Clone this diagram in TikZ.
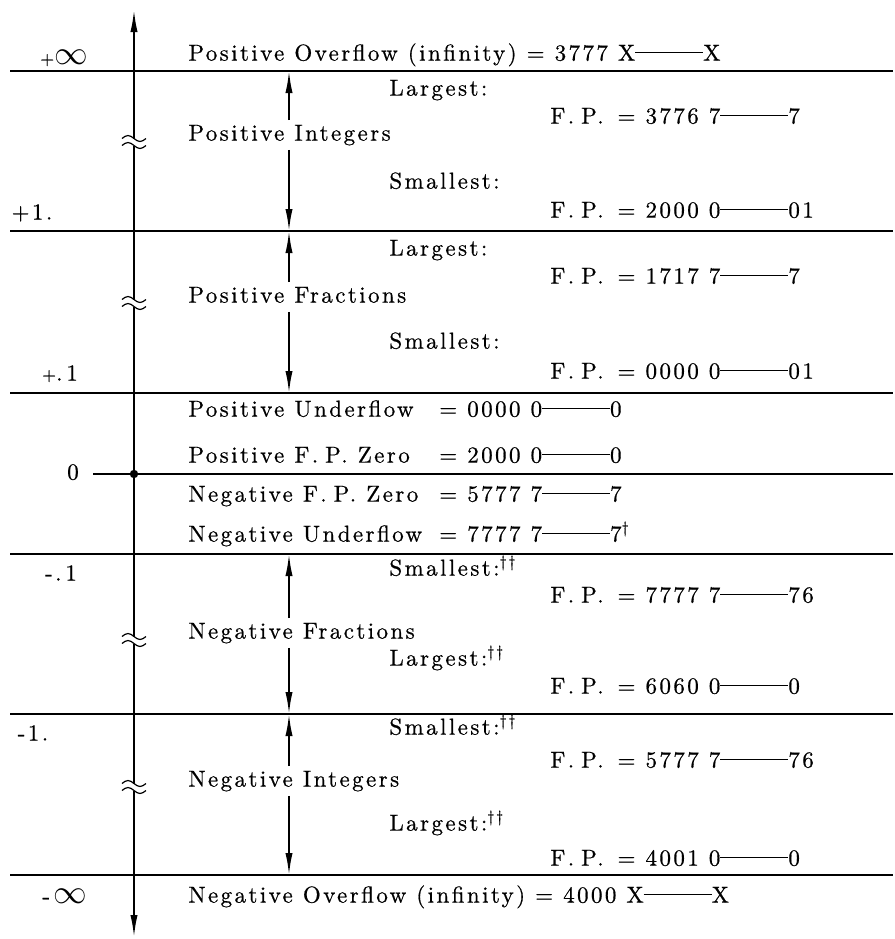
\documentclass[tikz,border=0pt]{standalone}
\usepackage{fontspec}
\setmainfont{lmroman10-regular.otf}[LetterSpace=10.5,
  BoldFont=lmroman10-regular.otf, BoldFeatures={FakeBold=0.6}]
\usepackage{graphicx}
\usetikzlibrary{arrows.meta}
% long rule standing for the repeated middle digits of a word
\newcommand{\numdash}{\rule[0.32em]{34pt}{0.55pt}}
\newcommand{\dg}{\textsuperscript{\textdagger}}
\newcommand{\ddg}{\textsuperscript{\textdagger\textdagger}}
\newcommand{\infsym}{\scalebox{1.4}{$\infty$}}
\newcommand{\fp}{F.\hspace{0.3em}P.}
\begin{document}
\begin{tikzpicture}[x=0.5pt,y=-0.5pt,
  >={Latex[length=11pt,width=3.6pt]},
  txt/.style={inner sep=0pt,text height=7.9pt,text depth=2.3pt,anchor=west,
    font=\fontsize{11.5pt}{13pt}\selectfont\bfseries},
  sect/.style={txt,inner ysep=2.1pt},
  lab/.style={txt,anchor=center},
  val/.style={txt,anchor=east},
  hline/.style={line width=0.8pt},
  axis/.style={line width=0.9pt},
  brk/.pic={
    \fill[white] (-13,-3.5) rectangle (13,3.5);
    \draw[line width=0.6pt] (-12,-3.5) sin (-6,-6.5) cos (0,-3.5) sin (6,-0.5) cos (12,-3.5);
    \draw[line width=0.6pt] (-12,3.5) sin (-6,0.5) cos (0,3.5) sin (6,6.5) cos (12,3.5);
  }
]
\useasboundingbox (0,0) rectangle (895,939);

% boundary lines between the ranges
\coordinate (l0) at (10,71);   \coordinate (r0) at (893,71);
\coordinate (l1) at (10,231);  \coordinate (r1) at (893,231);
\coordinate (l2) at (10,393);  \coordinate (r2) at (893,393);
\coordinate (lz) at (93,474);  \coordinate (rz) at (893,474);
\coordinate (l3) at (10,554);  \coordinate (r3) at (893,554);
\coordinate (l4) at (10,714);  \coordinate (r4) at (893,714);
\coordinate (l5) at (10,875);  \coordinate (r5) at (893,875);
\foreach \a/\b in {l0/r0,l1/r1,l2/r2,lz/rz,l3/r3,l4/r4,l5/r5}
  \draw[hline] (\a) -- (\b);

% number axis
\coordinate (axtop) at (134,10);
\coordinate (axbot) at (134,937);
\coordinate (origin) at (134,474);
\draw[axis,<->] (axbot) -- (axtop);
\foreach \y in {142,303,640,787}
  \pic at (134,\y) {brk};
\fill (origin) circle (2.1pt);

% axis values
\node[lab] (vpinf) at (64,59) {{\small +}\infsym};
\node[lab] (vpone) at (32,214) {+1.};
\node[lab] (vptenth) at (60,375) {{\small +}.\,1};
\node[lab] (vzero) at (73,474) {0};
\node[lab] (vntenth) at (61,575) {-.\,1};
\node[lab] (vnone) at (33,735) {-1.};
\node[lab] (vninf) at (65,898) {-\,\infsym};

% range names with their extent arrows
\coordinate (sx) at (289,0);
\node[sect] (pint) at (188,135) {Positive Integers};
\node[sect] (pfrac) at (188,297) {Positive Fractions};
\node[sect] (nfrac) at (188,633) {Negative Fractions};
\node[sect] (nint) at (188,781) {Negative Integers};
\draw[axis,->] (pint.north -| sx) -- (l0 -| sx);
\draw[axis,->] (pint.south -| sx) -- (l1 -| sx);
\draw[axis,->] (pfrac.north -| sx) -- (l1 -| sx);
\draw[axis,->] (pfrac.south -| sx) -- (l2 -| sx);
\draw[axis,->] (nfrac.north -| sx) -- (l3 -| sx);
\draw[axis,->] (nfrac.south -| sx) -- (l4 -| sx);
\draw[axis,->] (nint.north -| sx) -- (l4 -| sx);
\draw[axis,->] (nint.south -| sx) -- (l5 -| sx);

% single values
\node[txt] (povf) at (188,55) {Positive Overflow (infinity) = 3777 X\numdash X};
\node[txt] (punf) at (188,411) {Positive Underflow};
\node[val] (punfv) at (622,411) {= 0000 0\numdash 0};
\node[txt] (pzero) at (188,457) {Positive \fp\ Zero};
\node[val] (pzerov) at (622,457) {= 2000 0\numdash 0};
\node[txt] (nzero) at (188,496) {Negative \fp\ Zero};
\node[val] (nzerov) at (622,496) {= 5777 7\numdash 7};
\node[txt] (nund) at (188,536) {Negative Underflow};
\node[val] (nundv) at (622,536) {= 7777 7\numdash 7\rlap{\dg}};
\node[txt] (novf) at (188,897) {Negative Overflow (infinity) = 4000 X\numdash X};

% largest and smallest words of each range
\node[txt] (pil) at (389,90) {Largest:};
\node[txt] (pilv) at (550,118) {\fp\ \,= 3776 7\numdash 7};
\node[txt] (pis) at (389,183) {Smallest:};
\node[txt] (pisv) at (550,212) {\fp\ \,= 2000 0\numdash 01};
\node[txt] (pfl) at (389,250) {Largest:};
\node[txt] (pflv) at (550,278) {\fp\ \,= 1717 7\numdash 7};
\node[txt] (pfs) at (389,343) {Smallest:};
\node[txt] (pfsv) at (550,373) {\fp\ \,= 0000 0\numdash 01};
\node[txt] (nfs) at (389,570) {Smallest:\ddg};
\node[txt] (nfsv) at (550,597) {\fp\ \,= 7777 7\numdash 76};
\node[txt] (nfl) at (389,660) {Largest:\ddg};
\node[txt] (nflv) at (550,688) {\fp\ \,= 6060 0\numdash 0};
\node[txt] (nis) at (389,729) {Smallest:\ddg};
\node[txt] (nisv) at (550,762) {\fp\ \,= 5777 7\numdash 76};
\node[txt] (nil) at (389,825) {Largest:\ddg};
\node[txt] (nilv) at (550,860) {\fp\ \,= 4001 0\numdash 0};
\end{tikzpicture}
\end{document}
